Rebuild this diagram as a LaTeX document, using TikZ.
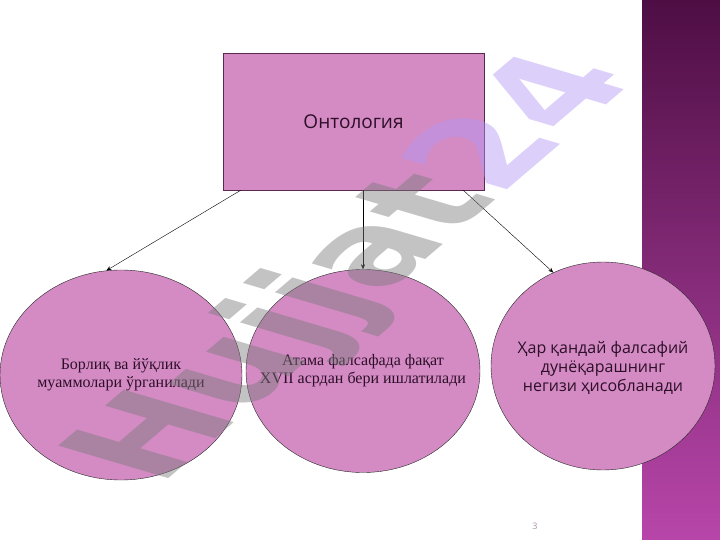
\documentclass[tikz,border=0pt]{standalone}
\usepackage{fontspec}
\setmainfont{Liberation Serif}
\newfontfamily\titlefont{Open Sans}
\newfontfamily\markfont{DejaVu Sans}
\usetikzlibrary{shapes.geometric,arrows.meta}

\definecolor{plum}{RGB}{212,139,196}
\definecolor{boxline}{RGB}{90,40,80}
\definecolor{inkplum}{RGB}{45,15,40}
\definecolor{barTop}{RGB}{78,14,68}
\definecolor{barBot}{RGB}{184,70,170}
\definecolor{markgrey}{RGB}{122,122,122}
\definecolor{marklav}{RGB}{177,151,244}

\begin{document}
\begin{tikzpicture}[x=1pt,y=-1pt,
	oval/.style={ellipse, draw=black!85, fill=plum, inner xsep=-45pt, inner ysep=-10pt, align=center, text=inkplum, font=\fontsize{16}{18}\selectfont},
	link/.style={-{Stealth[length=5pt,width=4pt]}, line width=0.4pt}]
	\useasboundingbox (0,0) rectangle (720,540);
	\shade[top color=barTop, bottom color=barBot] (642,0) rectangle (720,540);
	\node[draw=boxline, fill=plum, minimum width=261pt, minimum height=137pt, text=inkplum, font=\titlefont\fontsize{19}{22}\selectfont] at (353.5,121.5) (onto) {Онтология};
	\node[oval, minimum width=242pt, minimum height=210pt] at (121,375) (borliq) {Борлиқ ва йўқлик\\муаммолари ўрганилади};
	\node[oval, minimum width=234pt, minimum height=203pt] at (363,371) (atama) {Атама фалсафада фақат\\XVII асрдан бери ишлатилади};
	\node[oval, minimum width=224pt, minimum height=208pt, font=\titlefont\fontsize{16}{19}\selectfont] at (603,366) (asos) {\\[-4pt]Ҳар қандай фалсафий\\дунёқарашнинг\\негизи ҳисобланади};
	\draw[link] ([xshift=18pt]onto.south west) -- (borliq.98);
	\draw[link] (atama.north |- onto.south) -- (atama.north);
	\draw[link] ([xshift=-21pt]onto.south east) -- (asos.118);
	\node[text=boxline!50, font=\titlefont\fontsize{9}{9}\selectfont] at (535,526) (page) {3};
	% watermark
	\node[text opacity=0.45, rotate=40.5, xslant=-0.65, font=\markfont\bfseries\fontsize{132}{132}\selectfont] at (358,270) (mark) {\textcolor{markgrey}{Hujjat}\textcolor{marklav}{24}};
\end{tikzpicture}
\end{document}
